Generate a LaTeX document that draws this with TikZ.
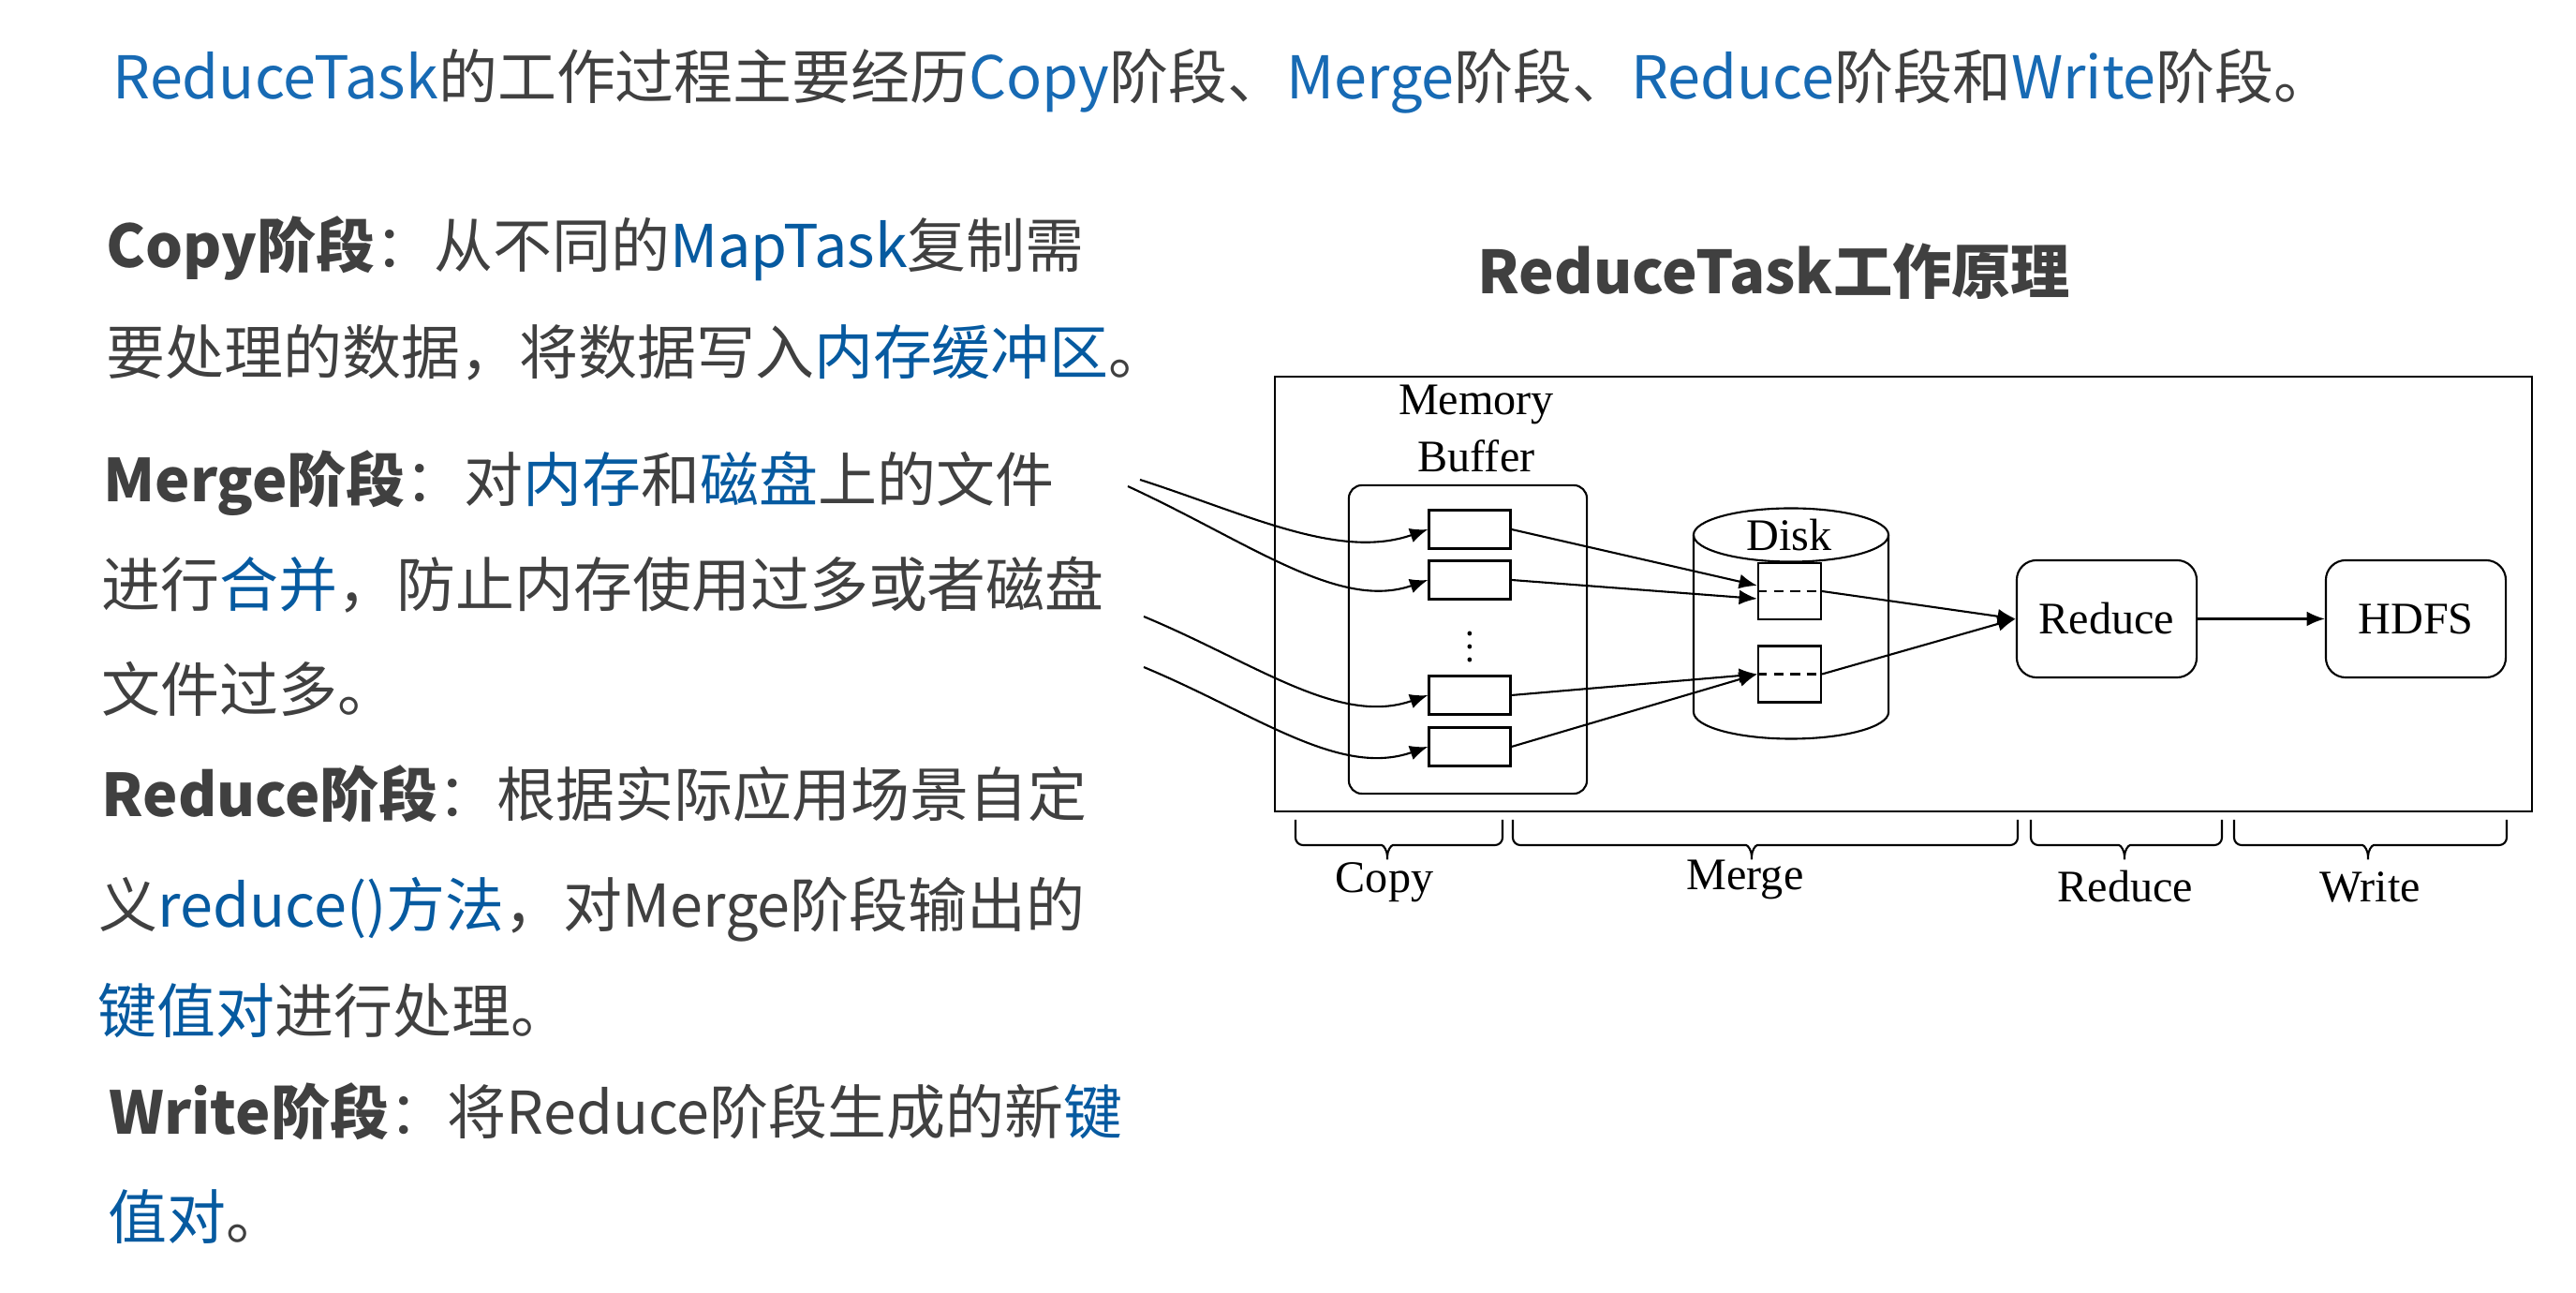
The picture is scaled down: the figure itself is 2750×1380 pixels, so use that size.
\documentclass[tikz,border=0pt]{standalone}
\usepackage{fontspec}
\setmainfont{Noto Sans CJK SC}
\newfontfamily\diafont{Liberation Serif}
\usepackage{tikz}
\usetikzlibrary{calc,arrows.meta}
\definecolor[named]{myColorText}{RGB}{64,64,64}
\definecolor[named]{myColorKey}{RGB}{6,90,160}
\definecolor[named]{myColorHead}{RGB}{23,106,180}

\begin{document}
\begin{tikzpicture}
[%
    x=0.01cm,
    y=-0.01cm,
    line/.style={
      anchor=base west,
      inner sep=0pt,
      text=myColorText,
      font=\fontsize{17.9pt}{21pt}\selectfont
    },
    tag/.style={
      anchor=base,
      inner sep=0pt,
      font=\diafont\fontsize{13.7pt}{16pt}\selectfont
    },
    slot/.style={
      rectangle,
      draw,
      line width=0.6pt,
      minimum width=0.87cm,
      minimum height=0.41cm,
      inner sep=0pt
    },
    spill/.style={
      rectangle,
      draw,
      line width=0.6pt,
      minimum width=0.67cm,
      minimum height=0.60cm,
      inner sep=0pt
    },
    buffer/.style={
      rectangle,
      draw,
      line width=0.6pt,
      rounded corners=4pt,
      minimum width=2.54cm,
      minimum height=3.29cm
    },
    block/.style={
      rectangle,
      draw,
      line width=0.6pt,
      rounded corners=6pt,
      minimum width=1.92cm,
      minimum height=1.25cm,
      inner sep=0pt,
      font=\diafont\fontsize{13.7pt}{16pt}\selectfont
    },
    flow/.style={
      -{Latex[length=5.5pt,width=4.5pt]},
      line width=0.6pt
    },
    phase/.style={
      line width=0.6pt,
      rounded corners=0.08cm
    }
  ]
  \useasboundingbox (0,0) rectangle (2750,1380);

  %Text
    \node[line] (HD) at (120,106) {\textcolor{myColorHead}{ReduceTask}的工作过程主要经历\textcolor{myColorHead}{Copy}阶段、\textcolor{myColorHead}{Merge}阶段、\textcolor{myColorHead}{Reduce}阶段和\textcolor{myColorHead}{Write}阶段。};
    \node[line] (CP1) at (113,286) {\textbf{Copy阶段}：从不同的\textcolor{myColorKey}{MapTask}复制需};
    \node[line] (CP2) at (113,400) {要处理的数据，将数据写入\textcolor{myColorKey}{内存缓冲区}。};
    \node[line] (MG1) at (110,536) {\textbf{Merge阶段}：对\textcolor{myColorKey}{内存}和\textcolor{myColorKey}{磁盘}上的文件};
    \node[line] (MG2) at (108,648) {进行\textcolor{myColorKey}{合并}，防止内存使用过多或者磁盘};
    \node[line] (MG3) at (108,760) {文件过多。};
    \node[line] (RD1) at (108,872) {\textbf{Reduce阶段}：根据实际应用场景自定};
    \node[line] (RD2) at (105,990) {义\textcolor{myColorKey}{reduce()方法}，对Merge阶段输出的};
    \node[line] (RD3) at (104,1103) {\textcolor{myColorKey}{键值对}进行处理。};
    \node[line] (WR1) at (116,1211) {\textbf{Write阶段}：将Reduce阶段生成的新\textcolor{myColorKey}{键}};
    \node[line] (WR2) at (115,1323) {\textcolor{myColorKey}{值对}。};

  %Diagram
    \node[anchor=base, inner sep=0pt, text=myColorText, font=\bfseries\fontsize{18pt}{21pt}\selectfont] (TT) at (1894,314) {ReduceTask工作原理};
    \draw[line width=0.8pt] (1361,402) rectangle (2703,866);

    \node[tag] (MBa) at (1576,443) {Memory};
    \node[tag] (MBb) at (1576,504) {Buffer};
    \draw (1567,682.5) node[buffer] (MB) {};
    \draw (1569,565) node[slot] (S1) {};
    \draw (1569,619) node[slot] (S2) {};
    \draw (1569,742) node[slot] (S3) {};
    \draw (1569,797) node[slot] (S4) {};
    \node[inner sep=0pt] (DT) at (1569,680) {$\vdots$};

    \draw[line width=0.6pt] (1808,571) -- (1808,760) arc[start angle=180, end angle=360, x radius=1.04cm, y radius=0.285cm] -- (2016,571);
    \draw[line width=0.6pt] (1912,571) ellipse [x radius=1.04cm, y radius=0.285cm];
    \node[tag] (DK) at (1910,588) {Disk};
    \draw (1910.5,631) node[spill] (D1) {};
    \draw (1910.5,719.5) node[spill] (D2) {};
    \draw[line width=0.6pt, dash pattern=on 3pt off 2pt] (D1.west) -- (D1.east);
    \draw[line width=0.6pt, dash pattern=on 3pt off 2pt] (D2.west) -- (D2.east);

    \draw (2249,660.5) node[block] (RE) {Reduce};
    \draw (2579,660.5) node[block] (HF) {HDFS};

    \coordinate (in1) at (1217,512);
    \coordinate (in2) at (1204,519);
    \coordinate (in3) at (1221,658);
    \coordinate (in4) at (1221,712);
    \draw[flow] (in1) .. controls +(115,37) and +(-95,33) .. (S1.west);
    \draw[flow] (in2) .. controls +(130,60) and +(-95,33) .. (S2.west);
    \draw[flow] (in3) .. controls +(120,50) and +(-95,33) .. (S3.west);
    \draw[flow] (in4) .. controls +(120,50) and +(-95,33) .. (S4.west);

    \draw[flow] (S1.east) -- ($(D1.west)+(0,-6)$);
    \draw[flow] (S2.east) -- ($(D1.west)+(0,8)$);
    \draw[flow] (S3.east) -- (D2.west);
    \draw[flow] (S4.east) -- (D2.west);
    \draw[flow] (D1.east) -- (RE.west);
    \draw[flow] (D2.east) -- (RE.west);
    \draw[flow] (RE) -- (HF);

  %Phases
    \draw[phase] (1383,875) |- (1467,902) .. controls (1477,902) and (1481,908) .. (1481,922) .. controls (1481,908) and (1485,902) .. (1495,902) -| (1604,875);
    \draw[phase] (1615,875) |- (1856,902) .. controls (1866,902) and (1870,908) .. (1870,922) .. controls (1870,908) and (1874,902) .. (1884,902) -| (2154,875);
    \draw[phase] (2168,875) |- (2254,902) .. controls (2264,902) and (2268,908) .. (2268,922) .. controls (2268,908) and (2272,902) .. (2282,902) -| (2372,875);
    \draw[phase] (2385,875) |- (2514,902) .. controls (2524,902) and (2528,908) .. (2528,922) .. controls (2528,908) and (2532,902) .. (2542,902) -| (2676,875);
    \node[tag] (CPL) at (1478,953) {Copy};
    \node[tag] (MGL) at (1863,950) {Merge};
    \node[tag] (RDL) at (2269,963) {Reduce};
    \node[tag] (WRL) at (2530,963) {Write};

\end{tikzpicture}
\end{document}
